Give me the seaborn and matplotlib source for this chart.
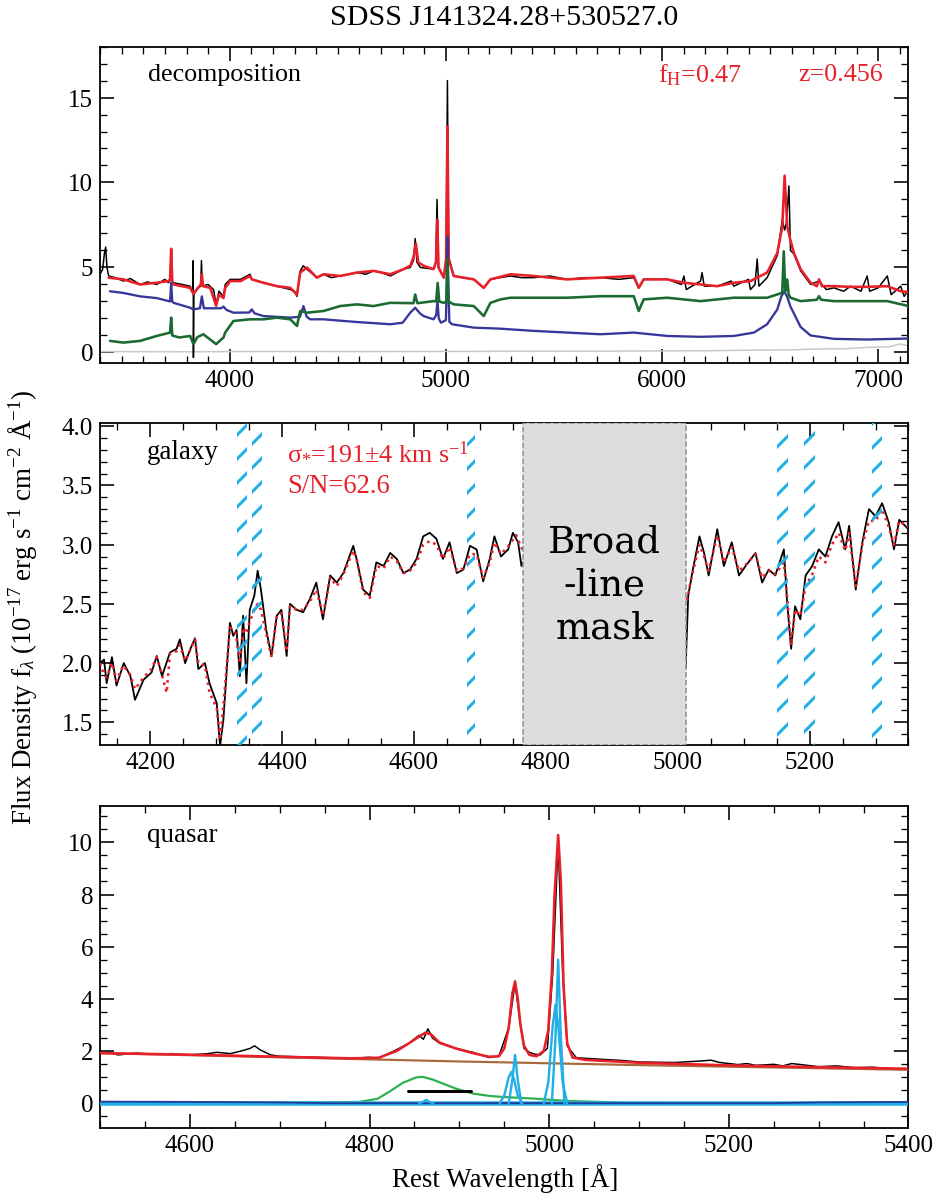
import numpy as np
import matplotlib
matplotlib.use("Agg")
import matplotlib.pyplot as plt
from matplotlib.ticker import MultipleLocator, FormatStrFormatter
import seaborn as sns

# ---------------- data: top panel (decomposition) ----------------
top_data_wl = [3400, 3412, 3420, 3426, 3432, 3440, 3470, 3508, 3540, 3585,
               3620, 3662, 3700, 3716, 3724, 3729, 3734, 3740, 3780, 3817,
               3829, 3831, 3832, 3834, 3850, 3866, 3869, 3873, 3900, 3925,
               3937, 3950, 3971, 3979, 4002, 4050, 4094, 4102, 4156, 4218,
               4280, 4300, 4311, 4326, 4340, 4357, 4403, 4434, 4470, 4511,
               4550, 4588, 4630, 4665, 4700, 4743, 4804, 4835, 4850, 4858,
               4866, 4882, 4943, 4953, 4959, 4965, 4990, 5001, 5007, 5013,
               5036, 5080, 5129, 5175, 5206, 5250, 5298, 5350, 5406, 5480,
               5561, 5640, 5715, 5800, 5869, 5892, 5915, 6024, 6090, 6101,
               6112, 6178, 6185, 6195, 6255, 6320, 6332, 6400, 6409, 6430,
               6440, 6448, 6486, 6533, 6556, 6567, 6575, 6587, 6594, 6610,
               6641, 6687, 6726, 6760, 6795, 6840, 6872, 6920, 6949, 6960,
               7000, 7042, 7060, 7104, 7120, 7140]
top_data_fl = [4.6, 4.9, 5.8, 6.2, 5.0, 4.5, 4.4, 4.2, 4.35, 4.0,
               4.15, 4.0, 4.3, 4.1, 4.25, 6.0, 4.2, 4.1, 4.0, 3.9,
               3.5, 5.4, -0.3, 3.4, 3.8, 3.9, 5.4, 3.9, 4.0, 3.7,
               2.8, 3.6, 3.3, 4.0, 4.3, 4.3, 4.6, 4.3, 4.1, 3.9,
               3.7, 3.6, 3.3, 4.8, 5.1, 4.9, 4.4, 4.6, 4.4, 4.5,
               4.6, 4.7, 4.6, 4.8, 4.7, 4.5, 4.9, 5.0, 5.4, 6.7,
               5.3, 5.0, 4.9, 5.3, 9.0, 5.0, 4.4, 5.2, 16.0, 5.6,
               4.5, 4.4, 4.3, 3.8, 4.3, 4.4, 4.5, 4.4, 4.4, 4.5,
               4.3, 4.4, 4.4, 4.3, 4.4, 3.8, 4.3, 4.3, 4.0, 4.5,
               3.7, 4.2, 4.7, 3.9, 3.9, 4.2, 3.9, 4.3, 3.7, 4.0,
               5.5, 3.9, 4.4, 5.7, 7.8, 7.2, 7.6, 9.8, 6.0, 5.8,
               4.8, 4.0, 4.2, 3.7, 3.8, 3.6, 3.9, 3.6, 4.5, 3.6,
               3.8, 4.5, 3.4, 3.9, 3.3, 3.7]

top_model_wl = [3440, 3508, 3585, 3662, 3716, 3724, 3729, 3734, 3740, 3817,
                3832, 3860, 3866, 3871, 3876, 3910, 3937, 3950, 3971, 3979,
                4002, 4050, 4094, 4102, 4156, 4218, 4280, 4311, 4326, 4357,
                4403, 4434, 4511, 4588, 4665, 4743, 4804, 4835, 4850, 4861,
                4872, 4897, 4943, 4954, 4960, 4966, 4990, 5001, 5007, 5013,
                5036, 5129, 5175, 5206, 5298, 5406, 5561, 5715, 5869, 5892,
                5915, 6024, 6101, 6178, 6255, 6332, 6409, 6486, 6533, 6556,
                6567, 6579, 6594, 6610, 6641, 6687, 6716, 6726, 6740, 6795,
                6872, 6949, 7042, 7104, 7140]
top_model_fl = [4.4, 4.3, 4.0, 4.1, 4.2, 4.3, 6.1, 4.2, 4.0, 3.8,
                3.45, 3.9, 4.0, 4.6, 3.9, 3.8, 2.75, 3.4, 3.2, 3.8,
                4.2, 4.2, 4.5, 4.3, 4.1, 3.9, 3.8, 3.4, 4.7, 5.0,
                4.4, 4.6, 4.5, 4.7, 4.8, 4.6, 4.9, 5.1, 5.6, 6.4,
                5.3, 5.1, 4.9, 5.3, 7.8, 5.0, 4.4, 5.5, 13.3, 5.5,
                4.5, 4.3, 3.8, 4.3, 4.6, 4.5, 4.3, 4.4, 4.5, 3.8,
                4.3, 4.3, 4.1, 4.0, 3.9, 4.1, 4.2, 4.7, 5.85, 7.4,
                10.4, 7.4, 6.6, 5.85, 4.9, 4.1, 3.9, 4.3, 3.9, 3.9,
                3.86, 3.86, 3.9, 3.6, 3.55]

top_qso_wl = [3446, 3508, 3585, 3662, 3724, 3729, 3734, 3740, 3817, 3832,
              3862, 3871, 3880, 3960, 3971, 3985, 4017, 4090, 4102, 4115,
              4156, 4280, 4325, 4341, 4356, 4372, 4434, 4588, 4743, 4800,
              4835, 4858, 4880, 4897, 4943, 4955, 4961, 4967, 4977, 5000,
              5004, 5007, 5011, 5016, 5028, 5129, 5252, 5298, 5406, 5561,
              5715, 5869, 6024, 6178, 6332, 6425, 6486, 6533, 6552, 6565,
              6578, 6594, 6641, 6687, 6795, 6949, 7140]
top_qso_fl = [3.6, 3.5, 3.3, 3.2, 3.0, 4.1, 3.0, 2.92, 2.63, 2.53,
              2.6, 3.3, 2.6, 2.6, 2.7, 2.5, 2.34, 2.35, 2.53, 2.3,
              2.14, 2.05, 2.1, 2.73, 2.1, 1.95, 1.95, 1.79, 1.66, 1.75,
              2.34, 2.63, 2.3, 2.14, 1.95, 2.2, 3.0, 2.0, 1.75, 1.9,
              4.0, 6.8, 4.0, 1.8, 1.66, 1.46, 1.40, 1.36, 1.27, 1.17,
              1.07, 1.17, 0.97, 0.92, 0.97, 1.17, 1.66, 2.53, 3.3, 3.6,
              3.3, 2.7, 1.5, 1.0, 0.8, 0.76, 0.82]

top_gal_wl = [3446, 3508, 3585, 3662, 3724, 3729, 3734, 3766, 3817, 3832,
              3850, 3878, 3937, 3971, 3979, 4017, 4094, 4156, 4218, 4280,
              4311, 4326, 4357, 4434, 4511, 4588, 4665, 4743, 4850, 4858,
              4868, 4882, 4943, 4955, 4962, 4969, 4990, 5002, 5007, 5012,
              5036, 5129, 5175, 5206, 5252, 5298, 5406, 5561, 5715, 5869,
              5892, 5915, 6024, 6178, 6332, 6486, 6556, 6563, 6570, 6579,
              6586, 6594, 6641, 6716, 6726, 6736, 6795, 6949, 7042, 7140]
top_gal_fl = [0.68, 0.58, 0.68, 0.97, 1.17, 2.05, 1.0, 0.88, 0.97, 0.49,
              0.9, 1.07, 0.49, 0.88, 1.17, 1.85, 1.95, 1.95, 2.05, 1.95,
              1.56, 2.44, 2.34, 2.44, 2.73, 2.83, 2.73, 2.92, 2.9, 3.41,
              2.9, 2.92, 3.02, 3.0, 4.09, 3.0, 2.92, 3.0, 5.5, 3.0,
              2.83, 2.73, 2.14, 2.92, 3.12, 3.22, 3.22, 3.22, 3.31, 3.31,
              2.44, 3.12, 3.22, 3.02, 3.22, 3.22, 3.51, 5.95, 3.6, 4.29,
              3.4, 3.22, 3.02, 3.1, 3.31, 3.1, 3.02, 3.02, 3.02, 2.73]

top_err_wl = [3400, 3800, 4200, 4600, 5000, 5400, 5800, 6200, 6450, 6600,
              6700, 6850, 6950, 7050, 7100, 7140]
top_err_fl = [0.05, 0.04, 0.06, 0.05, 0.06, 0.07, 0.08, 0.1, 0.14, 0.15,
              0.2, 0.22, 0.3, 0.33, 0.5, 0.4]

# ---------------- data: middle panel (galaxy) ----------------
mid_data_wl = [4124, 4130, 4134, 4142, 4149, 4160, 4170, 4177, 4190, 4202,
               4210, 4218, 4230, 4240, 4245, 4253, 4261, 4268, 4273, 4283,
               4290, 4301, 4306, 4311, 4321, 4326, 4331, 4336, 4341, 4346,
               4351, 4358, 4363, 4368, 4376, 4384, 4392, 4399, 4407, 4412,
               4422, 4432, 4442, 4452, 4462, 4473, 4483, 4493, 4508, 4513,
               4523, 4533, 4543, 4554, 4564, 4574, 4584, 4594, 4604, 4614,
               4624, 4634, 4644, 4654, 4665, 4675, 4685, 4695, 4705, 4715,
               4722, 4732, 4743, 4750, 4758, 4763, 4770, 5012, 5016, 5023,
               5033, 5040, 5047, 5060, 5070, 5082, 5093, 5103, 5118, 5128,
               5138, 5148, 5161, 5166, 5172, 5178, 5186, 5194, 5204, 5214,
               5224, 5234, 5244, 5254, 5260, 5270, 5280, 5290, 5300, 5310,
               5320, 5328, 5336, 5350]
mid_data_fl = [2.0, 2.03, 1.83, 2.05, 1.81, 2.0, 1.89, 1.69, 1.86, 1.92,
               2.06, 1.89, 2.09, 2.12, 2.2, 2.0, 2.12, 2.21, 1.95, 2.0,
               1.83, 1.66, 1.30, 1.52, 2.34, 2.23, 2.28, 1.89, 2.4, 1.83,
               2.45, 2.57, 2.78, 2.62, 2.28, 2.06, 2.4, 2.45, 2.06, 2.5,
               2.45, 2.43, 2.54, 2.68, 2.37, 2.74, 2.68, 2.76, 2.99, 2.88,
               2.62, 2.57, 2.85, 2.82, 2.93, 2.88, 2.76, 2.79, 2.88, 3.07,
               3.1, 3.05, 2.88, 3.02, 2.76, 2.79, 2.99, 2.96, 2.69, 2.88,
               3.07, 2.9, 2.96, 3.1, 3.02, 2.82, 2.9, 1.95, 2.57, 2.79,
               3.07, 2.93, 2.74, 3.13, 2.82, 3.02, 2.74, 2.82, 2.93, 2.68,
               2.79, 2.74, 2.96, 2.51, 2.12, 2.48, 2.37, 2.74, 2.82, 2.96,
               2.9, 3.07, 3.19, 2.96, 3.16, 2.62, 3.02, 3.3, 3.24, 3.35,
               3.19, 2.96, 3.21, 3.13]

mid_model_wl = [4124, 4130, 4134, 4142, 4149, 4159, 4170, 4177, 4190, 4202,
                4210, 4218, 4225, 4230, 4240, 4245, 4253, 4260, 4268, 4273,
                4283, 4290, 4301, 4306, 4312, 4321, 4330, 4336, 4341, 4346,
                4351, 4358, 4363, 4368, 4376, 4384, 4392, 4399, 4407, 4412,
                4422, 4432, 4442, 4452, 4462, 4473, 4483, 4493, 4508, 4513,
                4523, 4533, 4543, 4554, 4564, 4574, 4584, 4594, 4604, 4614,
                4624, 4634, 4644, 4654, 4665, 4675, 4685, 4695, 4705, 4715,
                4722, 4732, 4745, 4755, 4765, 5013, 5020, 5033, 5040, 5047,
                5060, 5070, 5082, 5093, 5103, 5118, 5128, 5138, 5148, 5161,
                5166, 5172, 5178, 5186, 5194, 5204, 5214, 5224, 5234, 5244,
                5254, 5260, 5270, 5280, 5290, 5300, 5310, 5320, 5328, 5336,
                5350]
mid_model_fl = [2.0, 1.9, 1.88, 2.0, 1.85, 1.98, 1.9, 1.78, 1.88, 1.95,
                2.05, 1.9, 1.75, 2.08, 2.1, 2.15, 2.02, 2.1, 2.2, 2.0,
                1.98, 1.75, 1.62, 1.35, 1.7, 2.3, 2.25, 2.0, 2.3, 2.25,
                2.35, 2.45, 2.5, 2.45, 2.25, 2.05, 2.4, 2.42, 2.1, 2.48,
                2.45, 2.45, 2.52, 2.62, 2.4, 2.72, 2.65, 2.75, 2.95, 2.88,
                2.6, 2.55, 2.82, 2.8, 2.9, 2.86, 2.76, 2.78, 2.85, 3.0,
                3.03, 3.0, 2.88, 2.98, 2.78, 2.8, 2.92, 2.92, 2.72, 2.85,
                3.02, 2.92, 3.0, 3.08, 2.95, 2.5, 2.7, 3.0, 2.9, 2.78,
                3.08, 2.85, 2.98, 2.78, 2.83, 2.92, 2.72, 2.78, 2.75, 2.85,
                2.55, 2.15, 2.45, 2.4, 2.65, 2.75, 2.9, 2.85, 3.0, 3.1,
                2.95, 3.1, 2.65, 3.0, 3.2, 3.2, 3.3, 3.15, 3.0, 3.2,
                3.15]

line_mask_lo = [4332, 4355, 4680, 5151, 5192, 5295]
line_mask_hi = [4347, 4370, 4692, 5167, 5208, 5310]
broad_mask = [4765, 5013]

# ---------------- data: bottom panel (quasar) ----------------
bot_data_wl = [4500, 4510, 4520, 4540, 4560, 4580, 4600, 4620, 4630, 4645,
               4657, 4667, 4672, 4678, 4690, 4700, 4720, 4740, 4760, 4780,
               4800, 4810, 4830, 4844, 4855, 4860, 4865, 4870, 4878, 4896,
               4915, 4933, 4944, 4955, 4962, 4968, 4972, 4978, 4984, 4990,
               4998, 5004, 5010, 5015, 5020, 5030, 5040, 5060, 5080, 5100,
               5140, 5170, 5180, 5190, 5210, 5220, 5230, 5250, 5260, 5270,
               5300, 5320, 5340, 5360, 5380, 5400]
bot_data_fl = [1.9, 1.95, 1.85, 1.92, 1.88, 1.9, 1.85, 1.9, 1.95, 1.9,
               2.0, 2.1, 2.2, 2.05, 1.85, 1.8, 1.78, 1.76, 1.74, 1.72,
               1.76, 1.72, 2.05, 2.3, 2.6, 2.45, 2.85, 2.5, 2.3, 2.1,
               1.95, 1.75, 1.8, 2.9, 4.6, 3.0, 2.1, 1.95, 1.88, 1.85,
               2.1, 5.0, 10.0, 5.0, 2.2, 1.75, 1.72, 1.68, 1.64, 1.58,
               1.56, 1.62, 1.65, 1.56, 1.48, 1.52, 1.45, 1.49, 1.43, 1.52,
               1.40, 1.43, 1.36, 1.38, 1.32, 1.30]

bot_model_wl = [4500, 4600, 4700, 4780, 4810, 4830, 4844, 4855, 4862, 4868,
                4878, 4896, 4915, 4933, 4944, 4950, 4955, 4959, 4962, 4965,
                4968, 4972, 4978, 4986, 4994, 4999, 5003, 5006, 5010, 5013,
                5016, 5020, 5026, 5040, 5100, 5200, 5300, 5400]
bot_model_fl = [1.92, 1.86, 1.78, 1.72, 1.74, 2.0, 2.3, 2.55, 2.7, 2.65,
                2.32, 2.1, 1.92, 1.78, 1.8, 2.1, 2.9, 4.2, 4.67, 4.0,
                3.0, 2.2, 1.85, 1.8, 2.0, 2.8, 5.0, 8.0, 10.28, 8.5,
                4.5, 2.3, 1.75, 1.66, 1.55, 1.45, 1.38, 1.32]

bot_cont_wl = [4500, 4600, 4700, 4800, 4900, 5000, 5100, 5200, 5300, 5400]
bot_cont_fl = [1.92, 1.84, 1.76, 1.68, 1.60, 1.53, 1.46, 1.40, 1.34, 1.28]

bot_hb_wl = [4500, 4700, 4789, 4809, 4822, 4837, 4852, 4859, 4870, 4881,
             4896, 4915, 4933, 4948, 4981, 5018, 5055, 5092, 5400]
bot_hb_fl = [0.0, 0.01, 0.05, 0.17, 0.44, 0.78, 0.99, 1.01, 0.91, 0.76,
             0.56, 0.37, 0.28, 0.24, 0.18, 0.09, 0.05, 0.01, 0.0]

bot_feii_wl = [4500, 4600, 4700, 4750, 5250, 5300, 5400]
bot_feii_fl = [0.06, 0.05, 0.03, 0.0, 0.0, 0.03, 0.05]

narrow_base_wl = [4500, 5400]
narrow_base_fl = [0.0, 0.0]
narrow_hb_wl = [4855, 4860, 4863, 4866, 4871]
narrow_hb_fl = [0.0, 0.06, 0.13, 0.06, 0.0]
o3a_wing_wl = [4945, 4950, 4955, 4958, 4961, 4965, 4970]
o3a_wing_fl = [0.0, 0.3, 1.0, 1.2, 0.9, 0.3, 0.0]
o3a_core_wl = [4955, 4959, 4962, 4965, 4969]
o3a_core_fl = [0.0, 0.9, 1.85, 0.9, 0.0]
o3b_wing_wl = [4994, 4999, 5004, 5007, 5010, 5015, 5020]
o3b_wing_fl = [0.0, 0.8, 3.0, 3.77, 3.0, 0.8, 0.0]
o3b_core_wl = [5003, 5007, 5010, 5013, 5017]
o3b_core_fl = [0.0, 2.5, 5.5, 2.5, 0.0]

fwhm_bar_wl = [4843, 4913]
fwhm_bar_fl = [0.46, 0.46]

# ---------------- style ----------------
RED = "#E8202A"
BLUE = "#35359A"
DGREEN = "#1B6A32"
GRAY = "#C8C8C8"
CYAN = "#22AEE6"
LGREEN = "#2DB04A"
BROWN = "#A86A3C"
NAVY = "#1F3C9A"

sns.set_theme(style="ticks")
plt.rcParams["font.family"] = ["Liberation Serif", "DejaVu Serif"]
plt.rcParams["mathtext.fontset"] = "custom"
plt.rcParams["mathtext.rm"] = "Liberation Serif"
plt.rcParams["mathtext.it"] = "Liberation Serif:italic"
plt.rcParams["mathtext.bf"] = "Liberation Serif:bold"
plt.rcParams["hatch.linewidth"] = 3.0
plt.rcParams["hatch.color"] = CYAN

W, H = 935, 1195
fig = plt.figure(figsize=(935.5 / 72, 1195.5 / 72), dpi=72)
fig.patch.set_facecolor("white")


def box(l, t, r, b):
    return [l / W, 1 - b / H, (r - l) / W, (b - t) / H]


ax1 = fig.add_axes(box(100, 47, 908, 363))
ax2 = fig.add_axes(box(100, 423, 908, 745))
ax3 = fig.add_axes(box(100, 806, 908, 1128))


def line(ax, x, y, color, lw, z=2, ls="-"):
    sns.lineplot(x=x, y=y, ax=ax, color=color, linewidth=lw, sort=False,
                 estimator=None, errorbar=None, zorder=z, linestyle=ls)


def style(ax, xlim, ylim, xmaj, xmin, ymaj, ymin, yfmt=None):
    ax.set_xlim(*xlim)
    ax.set_ylim(*ylim)
    ax.xaxis.set_major_locator(MultipleLocator(xmaj))
    ax.xaxis.set_minor_locator(MultipleLocator(xmin))
    ax.yaxis.set_major_locator(MultipleLocator(ymaj))
    ax.yaxis.set_minor_locator(MultipleLocator(ymin))
    if yfmt:
        ax.yaxis.set_major_formatter(FormatStrFormatter(yfmt))
    ax.tick_params(which="both", direction="in", top=True, right=True,
                   colors="black", labelsize=25)
    ax.tick_params(which="major", length=14, width=1.6, pad=7)
    ax.tick_params(which="minor", length=7, width=1.3)
    for s in ax.spines.values():
        s.set_linewidth(1.8)
        s.set_color("black")
    ax.set_xlabel("")
    ax.set_ylabel("")
    ax.set_facecolor("white")


# ---- top panel ----
line(ax1, top_err_wl, top_err_fl, GRAY, 1.5, 1)
line(ax1, top_data_wl, top_data_fl, "black", 1.5, 2)
line(ax1, top_model_wl, top_model_fl, RED, 2.6, 3)
line(ax1, top_qso_wl, top_qso_fl, BLUE, 2.3, 4)
line(ax1, top_gal_wl, top_gal_fl, DGREEN, 2.6, 4)
style(ax1, (3400, 7140), (-0.6, 18.0), 1000, 100, 5, 1)
ax1.text(0.059, 0.91, "decomposition", transform=ax1.transAxes, fontsize=26,
         ha="left", va="center", color="black")
ax1.text(0.69, 0.91, r"f$_{\rm H}$=0.47", transform=ax1.transAxes, fontsize=26,
         ha="left", va="center", color=RED)
ax1.text(0.969, 0.91, "z=0.456", transform=ax1.transAxes, fontsize=26,
         ha="right", va="center", color=RED)

# ---- middle panel ----
line(ax2, mid_data_wl, mid_data_fl, "black", 1.8, 2)
line(ax2, mid_model_wl, mid_model_fl, RED, 2.6, 3, ls=":")
for lo, hi in zip(line_mask_lo, line_mask_hi):
    ax2.axvspan(lo, hi, facecolor="none", edgecolor=CYAN, linewidth=0,
                hatch="/", zorder=4)
ax2.axvspan(broad_mask[0], broad_mask[1], facecolor="#DDDDDD", edgecolor="#8C8C8C",
            linestyle="--", linewidth=1.5, zorder=5)
ax2.text(sum(broad_mask) / 2, 2.66, "Broad\n-line\nmask", fontsize=37,
         family="DejaVu Serif", ha="center", va="center", linespacing=1.25,
         color="black", zorder=6)
style(ax2, (4124, 5350), (1.31, 4.03), 200, 50, 0.5, 0.1, "%.1f")
ax2.text(0.058, 0.91, "galaxy", transform=ax2.transAxes, fontsize=27,
         ha="left", va="center", color="black", zorder=7)
ax2.text(0.231, 0.91, r"σ$_{*}$=191±4 km s$^{-1}$", transform=ax2.transAxes,
         fontsize=26, ha="left", va="center", color=RED, zorder=7)
ax2.text(0.231, 0.804, "S/N=62.6", transform=ax2.transAxes, fontsize=26.5,
         ha="left", va="center", color=RED, zorder=7)

# ---- bottom panel ----
line(ax3, bot_data_wl, bot_data_fl, "black", 1.5, 2)
line(ax3, bot_cont_wl, bot_cont_fl, BROWN, 2.2, 3)
line(ax3, bot_model_wl, bot_model_fl, RED, 2.6, 4)
line(ax3, bot_hb_wl, bot_hb_fl, LGREEN, 2.2, 3)
line(ax3, narrow_base_wl, narrow_base_fl, CYAN, 4.5, 3)
line(ax3, bot_feii_wl, bot_feii_fl, NAVY, 1.8, 3)
for xs, ys in [(narrow_hb_wl, narrow_hb_fl), (o3a_wing_wl, o3a_wing_fl),
               (o3a_core_wl, o3a_core_fl), (o3b_wing_wl, o3b_wing_fl),
               (o3b_core_wl, o3b_core_fl)]:
    line(ax3, xs, ys, CYAN, 2.4, 5)
line(ax3, fwhm_bar_wl, fwhm_bar_fl, "black", 3.0, 6)
style(ax3, (4500, 5400), (-0.95, 11.4), 200, 50, 2, 0.5)
ax3.text(0.058, 0.91, "quasar", transform=ax3.transAxes, fontsize=27,
         ha="left", va="center", color="black")

# ---- figure texts ----
fig.text(504 / W, 1 - 18 / H, "SDSS J141324.28+530527.0", fontsize=30,
         ha="center", va="center", color="black")
fig.text(505 / W, 1 - 1178 / H, "Rest Wavelength [Å]", fontsize=27,
         ha="center", va="center", color="black")
fig.text(22 / W, 1 - 607 / H,
         r"Flux Density f$_\lambda$ (10$^{-17}$ erg s$^{-1}$ cm$^{-2}$ Å$^{-1}$)",
         fontsize=27, rotation=90, ha="center", va="center", color="black")

fig.savefig("out.png", dpi=72, facecolor="white")
